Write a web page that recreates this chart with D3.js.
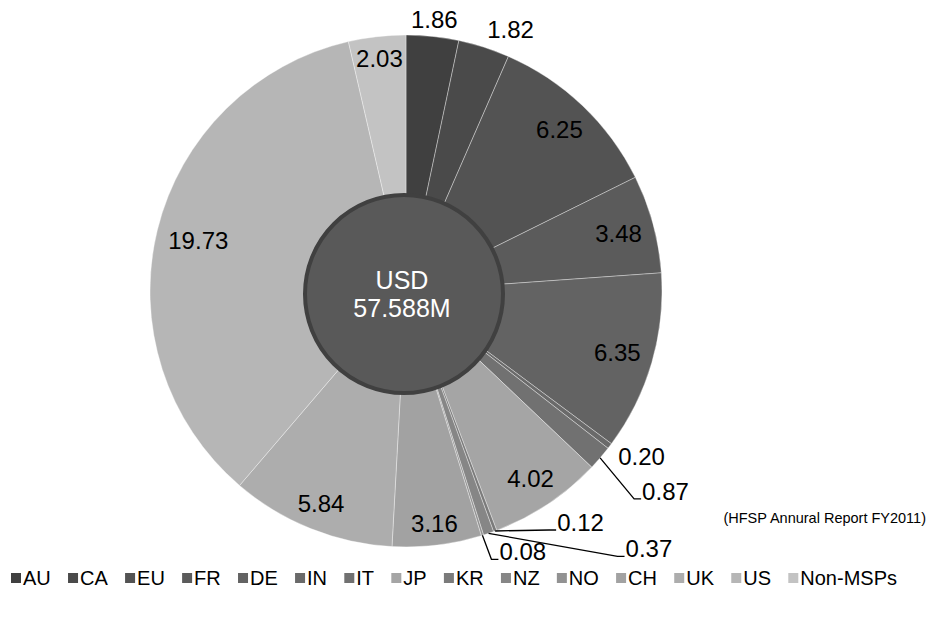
<!DOCTYPE html>
<html>
<head>
<meta charset="utf-8">
<script src="https://cdn.jsdelivr.net/npm/d3@7"></script>
<style>
  html, body { margin: 0; padding: 0; background: #fff; }
  svg text { font-family: "Liberation Sans", Arial, sans-serif; }
</style>
</head>
<body>
<svg id="chart" width="930" height="617"></svg>
<script>
// HFSP contributions by member (USD millions)
const categories = ["AU", "CA", "EU", "FR", "DE", "IN", "IT", "JP", "KR", "NZ", "NO", "CH", "UK", "US", "Non-MSPs"];
const values = [1.86, 1.82, 6.25, 3.48, 6.35, 0.20, 0.87, 4.02, 0.12, 0.37, 0.08, 3.16, 5.84, 19.73, 2.03];
const centerLines = ["USD", "57.588M"];
const sourceNote = "(HFSP Annural Report FY2011)";

// greys per member, same order as categories
const colors = ["#404040", "#4a4a4a", "#535353", "#5b5b5b", "#636363", "#6a6a6a", "#717171",
                "#a5a5a5", "#7b7b7b", "#868686", "#929292", "#a2a2a2", "#adadad", "#b6b6b6", "#c3c3c3"];

// label placement: labels outside the pie, with a nudge from the default spot
const outsideNudge = { AU: [0, 0], CA: [20, 2], IN: [8, -8] };
// labels with leader lines: offset of text start (left, baseline) from the slice edge
const leaderOffset = { IT: [42, 42], KR: [62, 0], NZ: [137, 24], NO: [17, 25] };

const svg = d3.select("#chart");
const cx = 406, cy = 291, R = 256;
const fontSize = 24;

const data = categories.map((c, i) => ({ cat: c, value: values[i], color: colors[i] }));

const pie = d3.pie().value(d => d.value).sort(null);
const arcs = pie(data);
const arcGen = d3.arc().innerRadius(0).outerRadius(R);

const g = svg.append("g").attr("transform", `translate(${cx},${cy})`);

g.selectAll("path.slice")
  .data(arcs)
  .join("path")
  .attr("class", "slice")
  .attr("d", arcGen)
  .attr("fill", d => d.data.color)
  .attr("stroke", "#ffffff")
  .attr("stroke-opacity", 0.45)
  .attr("stroke-width", 0.8)
  .attr("stroke-linejoin", "round");

// centre disc
const disc = svg.append("g");
disc.append("circle")
  .attr("cx", cx - 2).attr("cy", cy + 3).attr("r", 99)
  .attr("fill", "#595959")
  .attr("stroke", "#404040")
  .attr("stroke-width", 4);
disc.selectAll("text")
  .data(centerLines)
  .join("text")
  .attr("x", cx - 4)
  .attr("y", (d, i) => cy - 2 + i * 27.5)
  .attr("text-anchor", "middle")
  .attr("font-size", 25)
  .attr("fill", "#ffffff")
  .text(d => d);

// value labels
const labelLayer = svg.append("g");
const halfH = 10;
const fmt = d3.format(".2f");

arcs.forEach(a => {
  const cat = a.data.cat;
  const mid = (a.startAngle + a.endAngle) / 2;
  const s = Math.sin(mid), c = -Math.cos(mid);
  const txt = fmt(a.data.value);
  const halfW = txt.length * fontSize * 0.556 / 2 - fontSize * 0.07;
  const extent = Math.abs(halfW * s) + Math.abs(halfH * c);

  if (leaderOffset[cat]) {
    const sx = cx + R * s, sy = cy + R * c;
    const [ox, oy] = leaderOffset[cat];
    const tx = sx + ox, ty = sy + oy;
    const ly = ty - 1;
    labelLayer.append("polyline")
      .attr("points", [[sx, sy], [tx - 8, ly], [tx - 1, ly]].map(p => p.join(",")).join(" "))
      .attr("fill", "none")
      .attr("stroke", "#000")
      .attr("stroke-width", 1.3);
    labelLayer.append("text")
      .attr("x", tx).attr("y", ty)
      .attr("font-size", fontSize)
      .attr("fill", "#000")
      .text(txt);
    return;
  }

  let r, nx = 0, ny = 0;
  if (outsideNudge[cat]) {
    r = R + extent + 4;
    [nx, ny] = outsideNudge[cat];
  } else {
    r = R - extent - 9;
  }
  labelLayer.append("text")
    .attr("x", cx + r * s + nx)
    .attr("y", cy + r * c + ny)
    .attr("text-anchor", "middle")
    .attr("dominant-baseline", "central")
    .attr("font-size", fontSize)
    .attr("fill", "#000")
    .text(txt);
});

// source note
svg.append("text")
  .attr("x", 926).attr("y", 523)
  .attr("text-anchor", "end")
  .attr("font-size", 14.5)
  .attr("fill", "#000")
  .text(sourceNote);

// legend, laid out from measured text widths and centred
const legend = svg.append("g");
const legendY = 578, sw = 10, swGap = 2;
const items = legend.selectAll("g.item").data(data).join("g").attr("class", "item");
items.append("rect")
  .attr("width", sw).attr("height", sw)
  .attr("y", legendY - sw / 2)
  .attr("fill", d => d.color);
items.append("text")
  .attr("x", sw + swGap)
  .attr("y", legendY)
  .attr("dominant-baseline", "central")
  .attr("font-size", 20)
  .attr("fill", "#000")
  .text(d => d.cat);

const widths = [];
items.each(function () { widths.push(sw + swGap + d3.select(this).select("text").node().getComputedTextLength()); });
const legendLeft = 11, legendRight = 897;
const gap = (legendRight - legendLeft - d3.sum(widths)) / (widths.length - 1);
let xPos = legendLeft;
items.each(function (d, i) {
  d3.select(this).attr("transform", `translate(${xPos},0)`);
  xPos += widths[i] + gap;
});
</script>
</body>
</html>
